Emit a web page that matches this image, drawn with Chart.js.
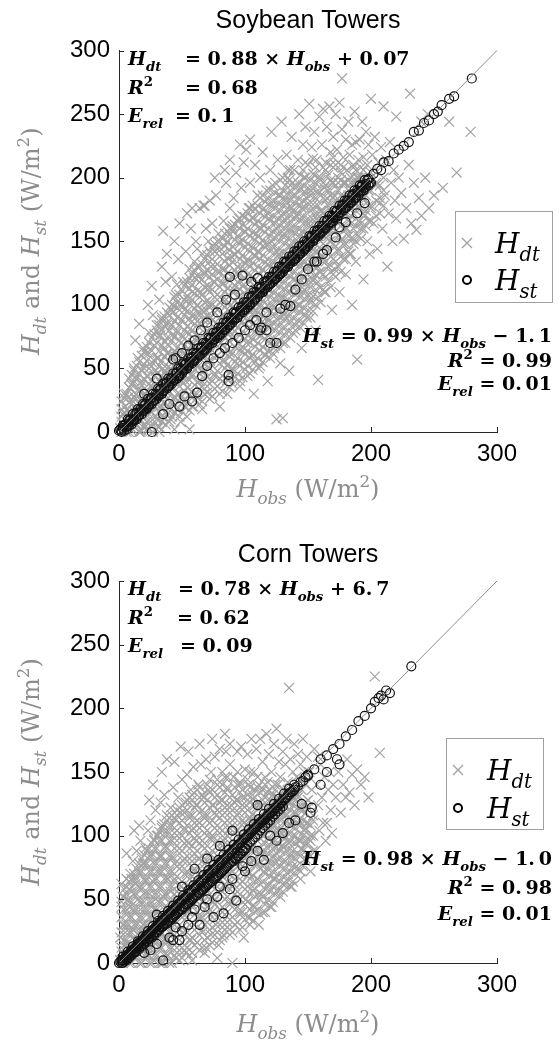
<!DOCTYPE html>
<html>
<head>
<meta charset="utf-8">
<script src="https://cdn.jsdelivr.net/npm/chart.js@4.4.1/dist/chart.umd.min.js"></script>
<style>
  body { margin: 0; background: #fff; }
  .box { position: absolute; left: 0; width: 559px; height: 512px; }
</style>
</head>
<body>
<div class="box" style="top:0"><canvas id="soy"></canvas></div>
<div class="box" style="top:530px"><canvas id="corn"></canvas></div>
<script>
// axis ticks and the 1:1 reference line
const xTicks = [0, 100, 200, 300];
const yTicks = [0, 50, 100, 150, 200, 250, 300];
const oneToOne = [0, 300];

// Soybean towers, H_dt (gray crosses): scattered marks
const soyDt = [
  [1,3],[2,8],[3,1],[3,14],[4,6],[5,20],[5,2],[6,11],[7,27],[7,4],[8,16],[9,34],[9,8],[10,22],[2,18],[6,0],[8,42],[4,30],
  [11,2],[11,38],[12,12],[12,50],[13,26],[14,6],[14,44],[15,18],[15,58],[16,32],[17,0],[17,10],[18,40],[18,24],[19,66],[19,4],[20,50],[13,72],[16,85],
  [21,14],[21,30],[22,62],[22,2],[23,44],[24,20],[24,78],[25,8],[25,36],[26,55],[27,0],[27,92],[28,26],[28,68],[29,12],[29,48],[30,34],[30,84],[23,100],[26,115],
  [31,4],[31,58],[32,20],[32,104],[33,40],[33,76],[34,12],[34,90],[35,50],[35,158],[36,28],[36,66],[37,118],[37,6],[38,44],[38,84],[39,18],[39,62],[40,98],[40,32],[34,130],[38,140],[32,0],
  [41,50],[41,10],[42,76],[42,122],[43,26],[43,94],[44,60],[44,2],[45,108],[45,40],[46,80],[46,18],[47,136],[47,54],[48,30],[48,100],[49,70],[49,8],[50,88],[50,44],[44,150],[48,164],[46,116],
  [51,24],[51,118],[52,62],[52,96],[53,40],[53,142],[54,78],[54,12],[55,104],[55,56],[56,30],[56,128],[57,86],[57,160],[58,46],[58,110],[59,70],[59,20],[60,134],[60,92],[54,172],[58,176],[56,2],
  [61,54],[61,150],[62,100],[62,30],[63,76],[63,122],[64,40],[64,176],[65,110],[65,62],[66,140],[66,18],[67,88],[67,178],[68,48],[68,124],[69,96],[69,160],[70,70],[70,36],[64,92],[68,178],[62,144],
  [71,112],[71,150],[72,56],[72,182],[73,90],[73,130],[74,28],[74,164],[75,74],[75,118],[76,142],[76,44],[77,98],[77,186],[78,60],[78,126],[79,156],[79,84],[80,106],[80,20],[76,200],[72,100],
  [81,70],[81,144],[82,118],[82,40],[83,166],[83,92],[84,128],[84,56],[85,196],[85,104],[86,30],[86,150],[87,80],[87,120],[88,176],[88,62],[89,138],[89,100],[90,48],[90,160],[84,206],[88,214],
  [91,112],[91,184],[92,74],[92,140],[93,204],[93,92],[94,54],[94,124],[95,168],[95,106],[96,36],[96,150],[97,86],[97,192],[98,130],[98,64],[99,212],[99,116],[100,98],[100,158],[101,222],[96,226],
  [101,70],[102,134],[102,44],[103,176],[103,110],[104,88],[104,196],[105,146],[105,60],[106,122],[106,168],[107,94],[107,30],[108,210],[108,138],[109,78],[109,156],[110,116],[110,186],[104,230],
  [111,50],[111,142],[112,98],[112,200],[113,160],[113,76],[114,128],[114,220],[115,108],[115,176],[116,60],[116,148],[117,190],[117,90],[118,132],[118,40],[119,168],[119,112],[120,206],[120,84],
  [121,150],[121,236],[122,100],[122,178],[123,66],[123,128],[124,196],[124,116],[125,10],[125,160],[126,88],[126,214],[127,140],[127,186],[128,106],[128,54],[129,170],[129,244],[130,124],[130,200],
  [131,92],[131,156],[132,182],[132,70],[133,138],[133,218],[134,110],[134,168],[135,198],[135,48],[136,146],[136,122],[137,232],[137,176],[138,96],[138,158],[139,206],[139,134],[140,186],[140,80],
  [141,118],[141,170],[142,214],[142,150],[143,100],[143,250],[144,192],[144,132],[145,66],[145,176],[146,226],[146,158],[147,112],[147,200],[148,142],[148,240],[149,184],[149,90],[150,164],[150,210],
  [151,130],[151,258],[152,190],[152,104],[153,224],[153,152],[154,176],[154,120],[155,202],[155,236],[156,142],[156,80],[157,214],[157,168],[158,41],[158,188],[159,126],[159,248],[160,200],[160,156],
  [161,174],[161,226],[162,138],[162,254],[163,192],[163,110],[164,212],[164,160],[165,240],[165,184],[166,130],[166,202],[167,150],[167,256],[168,220],[168,176],[169,96],[169,196],[170,232],[170,160],
  [171,186],[171,128],[172,210],[172,250],[173,168],[173,222],[174,144],[174,196],[175,259],[175,110],[176,204],[176,180],[177,238],[177,152],[178,216],[177,278],[179,172],[179,196],[180,124],[180,230],
  [181,206],[181,160],[182,244],[182,186],[183,218],[183,140],[184,196],[184,170],[185,226],[185,100],[186,210],[186,152],[187,186],[187,252],[188,228],[188,134],[189,57],[189,200],[190,176],[190,214],
  [191,196],[191,230],[192,160],[192,208],[193,244],[193,184],[194,120],[194,216],[195,200],[195,170],[196,236],[197,150],[197,210],[198,190],[198,226],[199,140],[200,204],[200,176],
  [201,218],[202,164],[203,232],[204,196],[205,144],[206,212],[207,180],[208,224],[209,160],[210,200],[211,186],[212,214],[213,130],[214,172],[215,228],[216,196],[217,150],[218,206],[219,182],[220,168],
  [222,200],[224,188],[226,152],[228,176],[230,210],[232,164],[234,196],[236,159],[238,184],[240,170],[243,200],[246,176],[250,186],[257,192],[262,244],[268,204],
  [231,266],[279,236],[220,248],[240,244],[210,256],[245,250],[200,262],[130,11]
];

// Soybean H_dt dense core: [x, y values stacked in that column]
const soyDtCore = [
  [2,[0,12,24]],[6,[5,17,30]],[10,[1,13,25,37,45]],[14,[6,18,30,42,52]],[18,[1,13,25,37,49,60]],
  [22,[8,20,32,44,56,67]],[26,[4,16,28,40,52,64,74]],[30,[10,22,34,46,58,70,80]],[34,[8,20,32,44,56,68,80,88]],
  [38,[14,26,38,50,62,74,86,94]],[42,[12,24,36,48,60,72,84,96,100]],[46,[18,30,42,54,66,78,90,102]],
  [50,[16,28,40,52,64,76,88,100,111]],[54,[23,35,47,59,71,83,95,107,118]],[58,[20,32,44,56,68,80,92,104,116,124]],
  [62,[27,39,51,63,75,87,99,111,123,130]],[66,[24,36,48,60,72,84,96,108,120,132]],[70,[31,43,55,67,79,91,103,115,127,139]],
  [74,[28,40,52,64,76,88,100,112,124,136,146]],[78,[36,48,60,72,84,96,108,120,132,144,150]],[82,[32,44,56,68,80,92,104,116,128,140,152]],
  [86,[41,53,65,77,89,101,113,125,137,149,158]],[90,[38,50,62,74,86,98,110,122,134,146,158,162]],[94,[46,58,70,82,94,106,118,130,142,154,166]],
  [98,[43,55,67,79,91,103,115,127,139,151,163,170]],[102,[52,64,76,88,100,112,124,136,148,160,172]],[106,[49,61,73,85,97,109,121,133,145,157,169,178]],
  [110,[58,70,82,94,106,118,130,142,154,166,178]],[114,[55,67,79,91,103,115,127,139,151,163,175,186]],[118,[64,76,88,100,112,124,136,148,160,172,184]],
  [122,[62,74,86,98,110,122,134,146,158,170,182,194]],[126,[72,84,96,108,120,132,144,156,168,180]],[130,[70,82,94,106,118,130,142,154,166,178,190]],
  [134,[80,92,104,116,128,140,152,164,176,188,200,206]],[138,[78,90,102,114,126,138,150,162,174,186,196]],[142,[88,100,112,124,136,148,160,172,184,196]],
  [146,[86,98,110,122,134,146,158,170,182,194,206]],[150,[96,108,120,132,144,156,168,180,192]],[154,[95,107,119,131,143,155,167,179,191,203,215]],
  [158,[106,118,130,142,154,166,178,190,200]],[162,[112,124,136,148,160,172,184,196,208]],[166,[118,130,142,154,166,178,190]],
  [170,[124,136,148,160,172,184,196,208,216]],[174,[130,142,154,166,178,190,200]],[178,[136,148,160,172,184,196,208]],
  [182,[142,154,166,178,190,198]],[186,[148,160,172,184,196,208]],[190,[154,166,178,190,200]],
  [194,[160,172,184,196,206]],[198,[166,178,190]],[204,[170,182,194]],[210,[178,190]]
];

// Soybean H_dt, second interleaved set of core columns
const soyDtCore2 = [
  [4,[3,15,27]],[8,[0,11,23,35]],[12,[4,16,28,40,48]],[16,[0,10,22,34,46,55]],[20,[5,17,29,41,53,63]],
  [24,[2,14,26,38,50,62,70]],[28,[8,20,32,44,56,68,77]],[32,[4,16,28,40,52,64,76,84]],[36,[11,23,35,47,59,71,83,91]],
  [40,[8,20,32,44,56,68,80,92]],[44,[15,27,39,51,63,75,87,99,106]],[48,[12,24,36,48,60,72,84,96,108]],
  [52,[20,32,44,56,68,80,92,104,115]],[56,[17,29,41,53,65,77,89,101,113,121]],[60,[25,37,49,61,73,85,97,109,121,127]],
  [64,[22,34,46,58,70,82,94,106,118,130]],[68,[30,42,54,66,78,90,102,114,126,136]],[72,[26,38,50,62,74,86,98,110,122,134,142]],
  [76,[34,46,58,70,82,94,106,118,130,142,148]],[80,[30,42,54,66,78,90,102,114,126,138,150]],[84,[38,50,62,74,86,98,110,122,134,146,156]],
  [88,[35,47,59,71,83,95,107,119,131,143,155,160]],[92,[43,55,67,79,91,103,115,127,139,151,163]],[96,[40,52,64,76,88,100,112,124,136,148,160,168]],
  [100,[49,61,73,85,97,109,121,133,145,157,169]],[104,[46,58,70,82,94,106,118,130,142,154,166,176]],[108,[55,67,79,91,103,115,127,139,151,163,175]],
  [112,[52,64,76,88,100,112,124,136,148,160,172,184]],[116,[61,73,85,97,109,121,133,145,157,169,181]],[120,[58,70,82,94,106,118,130,142,154,166,178,190]],
  [124,[68,80,92,104,116,128,140,152,164,176,188]],[128,[66,78,90,102,114,126,138,150,162,174,186,198]],[132,[76,88,100,112,124,136,148,160,172,184,194]],
  [136,[74,86,98,110,122,134,146,158,170,182,194,206]],[140,[84,96,108,120,132,144,156,168,180,192]],[144,[82,94,106,118,130,142,154,166,178,190,202]],
  [148,[92,104,116,128,140,152,164,176,188,200,212]],[152,[90,102,114,126,138,150,162,174,186,198]],[156,[100,112,124,136,148,160,172,184,196,208]],
  [160,[102,114,126,138,150,162,174,186,198]],[164,[110,122,134,146,158,170,182,194,206]],[168,[114,126,138,150,162,174,186,198,210]],
  [172,[122,134,146,158,170,182,194]],[176,[126,138,150,162,174,186,198,210]],[180,[136,148,160,172,184,196]],
  [184,[140,152,164,176,188,200]],[188,[150,162,174,186,198,206]],[192,[152,164,176,188,200]],
  [196,[162,174,186,196]],[200,[166,178,190,200]],[207,[172,184,194]]
];

// Soybean towers, H_st (black circles)
const soySt = [
  [0,1],[2,1],[4,5],[6,4],[8,9],[10,8],[12,10],[14,15],[16,13],[18,17],[20,21],[22,19],[24,22],[26,27],[28,25],[30,29],[32,33],[34,30],[36,35],[38,39],
  [40,36],[42,42],[44,41],[46,47],[48,44],[50,49],[52,53],[54,50],[56,55],[58,59],[60,56],[62,62],[64,60],[66,67],[68,64],[70,69],[72,73],[74,70],[76,75],[78,79],
  [80,76],[82,82],[84,80],[86,87],[88,84],[90,89],[92,93],[94,90],[96,95],[98,99],[100,96],[102,102],[104,100],[106,107],[108,104],[110,109],[112,113],[114,110],[116,115],[118,119],
  [120,116],[122,122],[124,120],[126,127],[128,124],[130,129],[132,133],[134,130],[136,135],[138,139],[140,136],[142,142],[144,140],[146,147],[148,144],[150,149],[152,153],[154,150],[156,155],[158,159],
  [160,156],[162,162],[164,160],[166,167],[168,164],[170,169],[172,173],[174,170],[176,175],[178,179],[180,176],[182,182],[184,180],[186,187],[188,184],[190,189],[192,193],[194,190],[196,195],[198,199],[200,196],
  [1,2],[3,3],[5,6],[7,5],[9,10],[11,9],[13,14],[15,12],[17,18],[19,16],[21,22],[23,20],[25,26],[27,24],[29,30],[31,28],[33,34],[35,32],[37,38],[39,36],
  [41,42],[43,40],[45,46],[47,44],[49,50],[51,48],[53,54],[55,52],[57,58],[59,56],[61,62],[63,60],[65,66],[67,64],[69,70],[71,68],[73,74],[75,72],[77,78],[79,76],
  [81,82],[83,80],[85,86],[87,84],[89,90],[91,88],[93,94],[95,92],[97,98],[99,96],[101,102],[103,100],[105,106],[107,104],[109,110],[111,108],[113,114],[115,112],[117,118],[119,116],
  [121,122],[123,120],[125,126],[127,124],[129,130],[131,128],[133,134],[135,132],[137,138],[139,136],[141,142],[143,140],[145,146],[147,144],[149,150],[151,148],[153,154],[155,152],[157,158],[159,156],
  [161,162],[163,160],[165,166],[167,164],[169,170],[171,168],[173,174],[175,172],[177,178],[179,176],[181,182],[183,180],[185,186],[187,184],[189,190],[191,188],[193,194],[195,192],[197,198],[199,196],
  [2,0],[4,1],[6,2],[8,5],[10,6],[12,9],[14,10],[16,13],[18,14],[20,17],[22,18],[24,21],[26,22],[28,25],[30,26],[32,29],[34,30],[36,33],[38,34],[40,37],
  [42,38],[44,41],[46,42],[48,45],[50,46],[52,49],[54,50],[56,53],[58,54],[60,57],[62,58],[64,61],[66,62],[68,65],[70,66],[72,69],[74,70],[76,73],[78,74],[80,77],
  [82,78],[84,81],[86,82],[88,85],[90,86],[92,89],[94,90],[96,93],[98,94],[100,97],[102,98],[104,101],[106,102],[108,105],[110,106],[112,109],[114,110],[116,113],[118,114],[120,117],
  [122,118],[124,121],[126,122],[128,125],[130,126],[132,129],[134,130],[136,133],[138,134],[140,137],[142,138],[144,141],[146,142],[148,145],[150,146],[152,149],[154,150],[156,153],[158,154],[160,157],
  [162,158],[164,161],[166,162],[168,165],[170,166],[172,169],[174,170],[176,173],[178,174],[180,177],[182,178],[184,181],[186,182],[188,185],[190,186],[192,189],[194,190],[196,193],[198,194],
  [3,5],[7,10],[11,14],[15,18],[19,22],[23,26],[27,30],[31,34],[35,38],[39,42],[43,46],[47,50],[51,54],[55,58],[59,62],[63,66],[67,70],[71,74],[75,78],[79,82],
  [83,86],[87,90],[91,94],[95,98],[99,102],[103,106],[107,110],[111,114],[115,118],[119,122],[123,126],[127,130],[131,134],[135,138],[139,142],[143,146],[147,150],[151,154],[155,158],[159,162],
  [163,166],[167,170],[171,174],[175,178],[179,182],[183,186],[187,190],[191,194],[195,198],
  [26,0],[35,14],[40,22],[48,20],[52,28],[58,24],[62,31],[66,44],[70,52],[75,58],[80,62],[84,66],[87,45],[87,40],[90,70],[95,74],[100,80],[104,84],[109,88],[112,80],
  [113,82],[117,80],[117,94],[120,70],[125,70],[128,97],[132,100],[136,99],[140,112],[145,120],[150,128],[155,134],[157,134],[162,140],[165,143],[172,153],[175,161],[180,165],[189,172],[195,180],
  [20,30],[30,42],[43,57],[50,62],[60,72],[70,86],[88,122],[98,123],[92,108],[105,118],[110,121],[85,104],[78,94],[65,80],[55,68],[45,58],
  [202,203],[205,207],[208,206],[210,212],[214,213],[218,219],[222,222],[226,225],[230,228],[234,236],[238,237],[242,243],[246,245],[250,250],[253,252],[256,257],[262,262],[266,264],[280,278]
];

// Corn towers, H_dt (gray crosses): scattered marks
const cornDt = [
  [1,2],[1,20],[2,9],[2,44],[3,30],[3,0],[4,14],[4,58],[5,24],[5,6],[6,38],[6,66],[7,16],[7,50],[8,2],[8,30],[9,44],[9,70],[10,12],[10,56],[3,52],[6,86],[2,62],
  [11,26],[11,80],[12,4],[12,40],[13,62],[13,18],[14,88],[14,32],[15,50],[15,8],[16,70],[16,22],[17,96],[17,42],[18,58],[18,0],[19,78],[19,30],[20,14],[20,48],[12,104],[16,108],
  [21,64],[21,90],[22,24],[22,38],[23,104],[23,6],[24,54],[24,76],[25,16],[25,112],[26,44],[26,86],[27,30],[27,64],[28,96],[28,2],[29,50],[29,120],[30,22],[30,72],[24,128],[27,140],
  [31,40],[31,100],[32,12],[32,60],[33,84],[33,126],[34,30],[34,108],[35,52],[35,0],[36,74],[36,132],[37,20],[37,92],[38,44],[38,116],[39,66],[39,6],[40,102],[40,34],[34,150],[38,160],
  [41,56],[41,122],[42,16],[42,82],[43,40],[43,138],[44,98],[44,64],[45,4],[45,112],[46,28],[46,76],[47,130],[47,48],[48,90],[48,10],[49,60],[49,118],[50,36],[50,144],[44,158],[49,170],
  [51,80],[51,24],[52,104],[52,52],[53,126],[53,8],[54,70],[54,148],[55,40],[55,94],[56,116],[56,60],[57,18],[57,136],[58,84],[58,46],[59,106],[59,154],[60,30],[60,72],[55,166],[58,2],
  [61,96],[61,124],[62,54],[62,16],[63,140],[63,82],[64,36],[64,110],[65,64],[65,156],[66,26],[66,92],[67,130],[67,48],[68,74],[68,116],[69,12],[69,160],[70,100],[70,58],[64,172],[68,8],
  [71,40],[71,136],[72,84],[72,110],[73,22],[73,150],[74,66],[74,98],[75,124],[75,48],[76,162],[76,78],[77,30],[77,116],[78,92],[78,140],[79,56],[79,14],[80,106],[80,168],[74,176],[78,4],
  [81,72],[81,128],[82,40],[82,150],[83,96],[83,22],[84,118],[84,60],[85,166],[85,84],[86,138],[86,32],[87,104],[87,70],[88,156],[88,48],[89,124],[89,90],[90,0],[90,112],[84,180],[88,172],
  [91,62],[91,146],[92,86],[92,30],[93,128],[93,104],[94,52],[94,166],[95,76],[95,118],[96,140],[96,40],[97,96],[97,170],[98,64],[98,130],[99,110],[99,20],[100,84],[100,152],
  [101,50],[101,124],[102,100],[102,164],[103,70],[103,140],[104,36],[104,112],[105,90],[105,176],[106,60],[106,132],[107,150],[107,80],[108,104],[108,44],[109,122],[109,168],[110,96],[110,66],
  [111,140],[111,30],[112,110],[112,176],[113,84],[113,54],[114,128],[114,158],[115,100],[115,72],[116,146],[116,40],[117,118],[117,180],[118,90],[118,60],[119,136],[119,164],[120,108],[120,78],
  [121,150],[121,44],[122,124],[122,96],[123,172],[123,66],[124,140],[124,112],[125,86],[125,184],[126,130],[126,56],[127,104],[127,158],[128,76],[128,146],[129,120],[129,92],[130,166],[130,62],
  [131,136],[131,100],[132,80],[132,156],[133,116],[133,176],[134,70],[134,142],[135,216],[135,94],[136,126],[136,160],[137,108],[137,60],[138,150],[138,84],[139,130],[139,172],[140,100],[140,118],
  [141,146],[141,76],[142,130],[142,164],[143,96],[143,112],[144,156],[144,66],[145,136],[145,90],[146,120],[146,176],[147,104],[147,150],[148,80],[148,140],[149,162],[149,110],[150,128],[150,94],
  [151,150],[152,100],[153,136],[154,116],[155,168],[156,88],[157,140],[158,124],[159,104],[160,156],[152,72],[158,162],
  [161,130],[162,110],[163,146],[164,96],[165,110],[166,136],[167,150],[168,120],[169,102],[170,140],
  [172,130],[174,150],[176,118],[178,140],[180,130],[181,160],[183,134],[185,148],[187,124],[189,152],[192,140],[195,146],[198,130],[203,225],[207,165]
];

// Corn H_dt dense core
const cornDtCore = [
  [2,[0,12,24,36,48]],[6,[6,18,30,42,54,60]],[10,[0,12,24,36,48,60,66]],[14,[6,18,30,42,54,66,74]],
  [18,[0,12,24,36,48,60,72,82]],[22,[6,18,30,42,54,66,78,88]],[26,[0,12,24,36,48,60,72,84,94]],[30,[6,18,30,42,54,66,78,90,100]],
  [34,[0,12,24,36,48,60,72,84,96,106]],[38,[6,18,30,42,54,66,78,90,102,112]],[42,[0,12,24,36,48,60,72,84,96,108,116]],
  [46,[8,20,32,44,56,68,80,92,104,116,120]],[50,[4,16,28,40,52,64,76,88,100,112,124]],[54,[12,24,36,48,60,72,84,96,108,120,128]],
  [58,[8,20,32,44,56,68,80,92,104,116,128,132]],[62,[16,28,40,52,64,76,88,100,112,124,136]],[66,[12,24,36,48,60,72,84,96,108,120,132]],
  [70,[20,32,44,56,68,80,92,104,116,128,140]],[74,[16,28,40,52,64,76,88,100,112,124,136]],[78,[24,36,48,60,72,84,96,108,120,132,144]],
  [82,[20,32,44,56,68,80,92,104,116,128,140]],[86,[28,40,52,64,76,88,100,112,124,136,146]],[90,[24,36,48,60,72,84,96,108,120,132]],
  [94,[32,44,56,68,80,92,104,116,128,140,150]],[98,[28,40,52,64,76,88,100,112,124,136]],[102,[36,48,60,72,84,96,108,120,132,144]],
  [106,[33,45,57,69,81,93,105,117,129]],[110,[42,54,66,78,90,102,114,126,138,146]],[114,[40,52,64,76,88,100,112,124,136]],
  [118,[50,62,74,86,98,110,122,134,142]],[122,[48,60,72,84,96,108,120,132]],[126,[58,70,82,94,106,118,130,140]],
  [130,[56,68,80,92,104,116,128]],[134,[66,78,90,102,114,126,136]],[138,[64,76,88,100,112,124]],
  [142,[74,86,98,110,122,132]],[146,[76,88,100,112,124]],[150,[86,98,110,122,128]],[154,[88,100,112]]
];

// Corn H_dt, second interleaved set of core columns
const cornDtCore2 = [
  [4,[6,18,30,42,52]],[8,[0,12,24,36,48,58,64]],[12,[6,18,30,42,54,66,70]],[16,[0,12,24,36,48,60,72,78]],
  [20,[6,18,30,42,54,66,78,85]],[24,[0,12,24,36,48,60,72,84,90]],[28,[6,18,30,42,54,66,78,90,97]],[32,[0,12,24,36,48,60,72,84,96,103]],
  [36,[6,18,30,42,54,66,78,90,102,109]],[40,[0,12,24,36,48,60,72,84,96,108,114]],[44,[6,18,30,42,54,66,78,90,102,114]],
  [48,[2,14,26,38,50,62,74,86,98,110,122]],[52,[10,22,34,46,58,70,82,94,106,118]],[56,[6,18,30,42,54,66,78,90,102,114,126,130]],
  [60,[14,26,38,50,62,74,86,98,110,122]],[64,[10,22,34,46,58,70,82,94,106,118,130,138]],[68,[18,30,42,54,66,78,90,102,114,126]],
  [72,[14,26,38,50,62,74,86,98,110,122,134,144]],[76,[22,34,46,58,70,82,94,106,118,130]],[80,[18,30,42,54,66,78,90,102,114,126,138]],
  [84,[26,38,50,62,74,86,98,110,122,134,146]],[88,[22,34,46,58,70,82,94,106,118,130]],[92,[30,42,54,66,78,90,102,114,126,138]],
  [96,[26,38,50,62,74,86,98,110,122,134,142]],[100,[34,46,58,70,82,94,106,118,130]],[104,[30,42,54,66,78,90,102,114,126,138,150]],
  [108,[40,52,64,76,88,100,112,124,136]],[112,[38,50,62,74,86,98,110,122,134]],[116,[46,58,70,82,94,106,118,130,140]],
  [120,[44,56,68,80,92,104,116,128]],[124,[54,66,78,90,102,114,126,136]],[128,[52,64,76,88,100,112,124]],
  [132,[62,74,86,98,110,122,134]],[136,[60,72,84,96,108,120]],[140,[70,82,94,106,118,128]],
  [144,[72,84,96,108,120]],[148,[82,94,106,118,126]],[152,[84,96,108]]
];

// Corn towers, H_st (black circles)
const cornSt = [
  [0,0],[2,2],[4,3],[6,6],[8,7],[10,10],[12,11],[14,13],[16,16],[18,17],[20,19],[22,22],[24,23],[26,25],[28,27],[30,29],[32,32],[34,33],[36,34],[38,37],
  [40,39],[42,41],[44,43],[46,44],[48,47],[50,49],[52,51],[54,52],[56,55],[58,57],[60,59],[62,60],[64,63],[66,65],[68,66],[70,69],[72,70],[74,73],[76,74],[78,76],
  [80,79],[82,80],[84,82],[86,84],[88,86],[90,88],[92,90],[94,92],[96,94],[98,96],[100,98],[102,100],[104,102],[106,104],[108,106],[110,108],[112,110],[114,112],[116,113],[118,116],
  [120,118],[122,119],[124,122],[126,124],[128,125],[130,128],[132,129],[134,132],[136,134],[138,135],[140,138],[142,139],[144,142],[146,143],[148,146],[150,147],
  [1,1],[3,2],[5,5],[7,6],[9,9],[11,10],[13,12],[15,15],[17,16],[19,18],[21,21],[23,22],[25,24],[27,26],[29,28],[31,30],[33,32],[35,34],[37,36],[39,38],
  [41,40],[43,42],[45,44],[47,46],[49,48],[51,50],[53,52],[55,54],[57,55],[59,58],[61,60],[63,61],[65,64],[67,65],[69,67],[71,70],[73,71],[75,73],[77,75],[79,77],
  [81,79],[83,81],[85,83],[87,85],[89,87],[91,89],[93,91],[95,93],[97,95],[99,97],[101,99],[103,101],[105,103],[107,105],[109,107],[111,109],[113,111],[115,112],[117,115],[119,116],
  [121,118],[123,120],[125,122],[127,124],[129,126],[131,128],[133,130],[135,132],[137,134],[139,136],
  [3,0],[5,2],[7,4],[9,6],[11,8],[13,9],[15,12],[17,13],[19,15],[21,17],[23,19],[25,21],[27,22],[29,24],[31,26],[33,28],[35,29],[37,31],[39,33],[41,34],
  [43,36],[45,38],[47,40],[49,42],[51,44],[53,46],[55,47],[57,49],[59,51],[61,53],[63,55],[65,57],[67,58],[69,60],[71,62],[73,64],[75,66],[77,67],[79,69],[81,71],
  [83,73],[85,75],[87,77],[89,79],[91,80],[93,82],[95,84],[97,86],[99,88],[101,90],
  [2,0],[4,1],[6,2],[8,4],[10,6],[12,8],[14,9],[16,11],[18,13],[20,15],[22,17],[24,19],[26,20],[28,22],[30,24],[32,26],[34,28],[36,30],[38,31],[40,33],
  [42,35],[44,37],[46,39],[48,41],[50,42],[52,44],[54,46],[56,48],[58,50],[60,52],[62,53],[64,55],[66,57],[68,59],[70,61],[72,63],[74,64],[76,66],[78,68],[80,70],
  [82,72],[84,74],[86,76],[88,78],[90,80],[92,82],[94,84],[96,86],[98,88],[100,90],[102,93],[104,95],[106,97],[108,99],[110,101],[112,104],[114,106],[116,108],[118,110],[120,112],
  [122,115],[124,117],[126,119],[128,121],[130,123],
  [3,5],[7,9],[11,13],[15,17],[19,21],[23,25],[27,29],[31,33],[35,37],[39,41],[43,45],[47,49],[51,53],[55,57],[59,61],[63,65],[67,69],[71,73],[75,77],[79,81],
  [83,85],[87,89],[91,93],[95,97],[99,101],[103,105],[107,109],[111,113],[115,117],[119,121],[123,125],[127,129],[131,133],[135,137],[139,140],
  [35,2],[43,18],[48,18],[64,30],[75,36],[83,39],[93,49],[40,20],[55,30],[60,42],[70,50],[80,60],[90,66],[100,72],[105,80],[110,88],[50,25],[30,15],[25,10],[20,8],
  [45,28],[58,36],[68,44],[78,52],[88,58],[98,76],[120,100],[135,110],
  [30,38],[50,60],[70,82],[90,104],[110,124],[60,74],[80,92],
  [150,148],[155,152],[160,160],[165,163],[170,168],[175,172],[180,178],[185,183],[190,190],[195,194],[200,200],[203,205],[206,208],[208,210],[210,207],[212,214],[215,212],[232,233],
  [175,156],[173,160],[152,118],[153,122],[130,102],[125,96],[115,81],[140,112],[145,125],[160,140],[165,150]
];

const SERIF = '"DejaVu Serif", serif';
const SANS = '"Liberation Sans", Arial, sans-serif';

// rich text pieces: italic, subscript, superscript
const N = t => ({ t });
const I = t => ({ t, i: true });
const SB = t => ({ t, i: true, s: 'sub' });
const SP = t => ({ t, s: 'sup' });

function drawRich(ctx, parts, x, yc, align, size, weight, color) {
  const fontOf = p => (p.i ? 'italic ' : '') + weight + ' ' + (p.s ? size * 0.7 : size) + 'px ' + SERIF;
  let w = 0;
  parts.forEach(p => { ctx.font = fontOf(p); w += ctx.measureText(p.t).width; });
  let cx = align === 'right' ? x - w : align === 'center' ? x - w / 2 : x;
  const base = yc + size * 0.36;
  ctx.fillStyle = color;
  ctx.textAlign = 'left';
  ctx.textBaseline = 'alphabetic';
  parts.forEach(p => {
    ctx.font = fontOf(p);
    const dy = p.s === 'sub' ? size * 0.3 : p.s === 'sup' ? -size * 0.42 : 0;
    ctx.fillText(p.t, cx, base + dy);
    cx += ctx.measureText(p.t).width;
  });
}

const extras = {
  id: 'extras',
  afterDraw(chart, args, o) {
    const ctx = chart.ctx;
    const xs = chart.scales.x, ys = chart.scales.y;
    const area = chart.chartArea;
    ctx.save();
    // inward tick marks like MATLAB
    ctx.strokeStyle = '#262626';
    ctx.lineWidth = 1;
    ctx.beginPath();
    xTicks.forEach(v => { const p = Math.round(xs.getPixelForValue(v)) + 0.5; ctx.moveTo(p, area.bottom); ctx.lineTo(p, area.bottom - 5); });
    yTicks.forEach(v => { const p = Math.round(ys.getPixelForValue(v)) + 0.5; ctx.moveTo(area.left, p); ctx.lineTo(area.left + 5, p); });
    ctx.stroke();

    // axis titles
    const gray = '#8c8c8c';
    drawRich(ctx, [I('H'), SB('obs'), N(' (W/m'), SP('2'), N(')')], (area.left + area.right) / 2, o.xTitleY, 'center', 24, 'normal', gray);
    ctx.save();
    ctx.translate(30, (area.top + area.bottom) / 2);
    ctx.rotate(-Math.PI / 2);
    drawRich(ctx, [I('H'), SB('dt'), N(' and '), I('H'), SB('st'), N(' (W/m'), SP('2'), N(')')], 0, 0, 'center', 24, 'normal', gray);
    ctx.restore();

    // fit statistics
    o.left.forEach(l => {
      drawRich(ctx, l.lab, 128, l.y, 'left', 19, 'bold', '#000');
      drawRich(ctx, l.val, l.eq, l.y, 'left', 19, 'bold', '#000');
    });
    o.right.forEach(l => drawRich(ctx, l.parts, 552, l.y, 'right', 19, 'bold', '#000'));

    // legend
    const lg = o.legend;
    ctx.fillStyle = '#fff';
    ctx.fillRect(lg.x, lg.y, lg.w, lg.h);
    ctx.strokeStyle = '#a0a0a0';
    ctx.lineWidth = 1;
    ctx.strokeRect(lg.x + 0.5, lg.y + 0.5, lg.w, lg.h);
    ctx.lineWidth = 1.3;
    ctx.beginPath();
    ctx.moveTo(lg.mx - 5, lg.r1 - 5); ctx.lineTo(lg.mx + 5, lg.r1 + 5);
    ctx.moveTo(lg.mx - 5, lg.r1 + 5); ctx.lineTo(lg.mx + 5, lg.r1 - 5);
    ctx.stroke();
    ctx.strokeStyle = '#000';
    ctx.lineWidth = 2;
    ctx.beginPath();
    ctx.arc(lg.mx, lg.r2, 4, 0, Math.PI * 2);
    ctx.stroke();
    drawRich(ctx, [I('H'), SB('dt')], lg.tx, lg.r1, 'left', 28, 'normal', '#000');
    drawRich(ctx, [I('H'), SB('st')], lg.tx, lg.r2, 'left', 28, 'normal', '#000');
    ctx.restore();
  }
};

function makeChart(id, title, dt, cores, st, cfg) {
  const pts = arr => arr.map(p => ({ x: p[0], y: p[1] }));
  const corePts = [];
  cores.forEach(core => core.forEach(c => c[1].forEach(y => corePts.push({ x: c[0], y }))));
  return new Chart(document.getElementById(id), {
    type: 'scatter',
    data: {
      datasets: [
        {
          type: 'line',
          data: oneToOne.map(v => ({ x: v, y: v })),
          borderColor: '#8c8c8c',
          borderWidth: 1,
          pointRadius: 0,
          clip: false
        },
        {
          data: pts(st),
          pointStyle: 'circle',
          pointRadius: 4.5,
          borderColor: '#111',
          backgroundColor: 'rgba(0,0,0,0)',
          borderWidth: 1.2,
          clip: false
        },
        {
          data: corePts.concat(pts(dt)),
          pointStyle: 'crossRot',
          pointRadius: 7,
          borderColor: '#a3a3a3',
          borderWidth: 1.2,
          clip: false
        }
      ]
    },
    options: {
      responsive: true,
      maintainAspectRatio: false,
      animation: false,
      layout: { padding: { left: 0, right: 62, top: 0, bottom: 0 } },
      scales: {
        x: {
          type: 'linear', min: 0, max: 300,
          afterBuildTicks: s => { s.ticks = xTicks.map(v => ({ value: v })); },
          afterFit: s => { s.height = cfg.xAxisH; },
          ticks: { font: { family: SANS, size: 24 }, color: '#000', padding: 8, maxRotation: 0 },
          grid: { drawOnChartArea: false, drawTicks: false },
          border: { display: true, color: '#262626', width: 1 }
        },
        y: {
          type: 'linear', min: 0, max: 300,
          afterBuildTicks: s => { s.ticks = yTicks.map(v => ({ value: v })); },
          afterFit: s => { s.width = 119; },
          ticks: { font: { family: SANS, size: 24 }, color: '#000', padding: 9 },
          grid: { drawOnChartArea: false, drawTicks: false },
          border: { display: true, color: '#262626', width: 1 }
        }
      },
      plugins: {
        legend: { display: false },
        tooltip: { enabled: false },
        title: {
          display: true,
          text: title,
          fullSize: false,
          color: '#000',
          font: { family: SANS, size: 25, weight: 'normal' },
          padding: cfg.titlePad
        },
        extras: cfg
      }
    },
    plugins: [extras]
  });
}

makeChart('soy', 'Soybean Towers', soyDt, [soyDtCore, soyDtCore2], soySt, {
  xAxisH: 80,
  titlePad: { top: 6, bottom: 14.5 },
  xTitleY: 488,
  left: [
    { lab: [I('H'), SB('dt')], val: [N('= 0.\u200988 × '), I('H'), SB('obs'), N(' + 0.\u200907')], eq: 185, y: 58 },
    { lab: [I('R'), SP('2')], val: [N('= 0.\u200968')], eq: 185, y: 87 },
    { lab: [I('E'), SB('rel')], val: [N('= 0.\u20091')], eq: 175, y: 115 }
  ],
  right: [
    { parts: [I('H'), SB('st'), N(' = 0.\u200999 × '), I('H'), SB('obs'), N(' − 1.\u20091')], y: 335 },
    { parts: [I('R'), SP('2'), N(' = 0.\u200999')], y: 360 },
    { parts: [I('E'), SB('rel'), N(' = 0.\u200901')], y: 383 }
  ],
  legend: { x: 455, y: 211, w: 97, h: 91, mx: 467, tx: 495, r1: 243, r2: 280 }
});

makeChart('corn', 'Corn Towers', cornDt, [cornDtCore, cornDtCore2], cornSt, {
  xAxisH: 79,
  titlePad: { top: 10, bottom: 11 },
  xTitleY: 493,
  left: [
    { lab: [I('H'), SB('dt')], val: [N('= 0.\u200978 × '), I('H'), SB('obs'), N(' + 6.\u20097')], eq: 178, y: 58 },
    { lab: [I('R'), SP('2')], val: [N('= 0.\u200962')], eq: 177, y: 87 },
    { lab: [I('E'), SB('rel')], val: [N('= 0.\u200909')], eq: 180, y: 115 }
  ],
  right: [
    { parts: [I('H'), SB('st'), N(' = 0.\u200998 × '), I('H'), SB('obs'), N(' − 1.\u20090')], y: 328 },
    { parts: [I('R'), SP('2'), N(' = 0.\u200998')], y: 357 },
    { parts: [I('E'), SB('rel'), N(' = 0.\u200901')], y: 383 }
  ],
  legend: { x: 446, y: 208, w: 97, h: 91, mx: 458, tx: 487, r1: 240, r2: 278 }
});
</script>
</body>
</html>
